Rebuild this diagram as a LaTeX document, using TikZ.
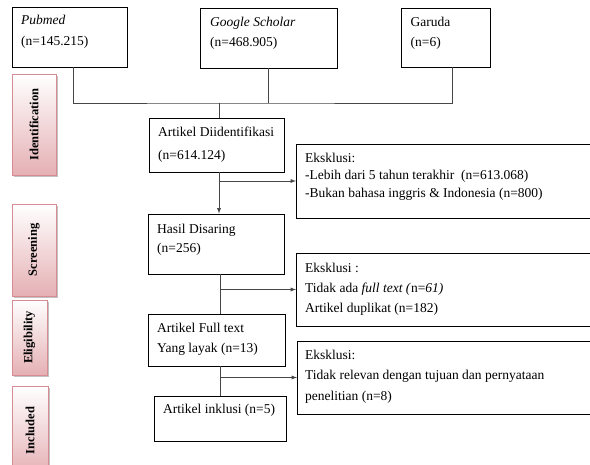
\documentclass[tikz,border=0pt]{standalone}
\usepackage{fontspec}
\setmainfont{Liberation Serif}
\usetikzlibrary{positioning,calc,arrows.meta,shadows}
\definecolor{stagefill}{RGB}{229,176,180}
\definecolor{stageline}{RGB}{214,140,146}
\definecolor{connline}{RGB}{70,70,70}
\newcommand{\boxlines}[2]{\parbox[t]{290pt}{\fontsize{13.5}{#1}\selectfont #2}}

\begin{document}
\begin{tikzpicture}[x=1pt,y=-1pt,
    box/.style={draw,line width=0.9pt,inner sep=0pt},
    conn/.style={draw=connline,line width=0.9pt},
    stage/.style={draw=stageline,line width=0.6pt,top color=white,bottom color=stagefill,inner sep=0pt,
      drop shadow={shadow xshift=2pt,shadow yshift=-2pt,fill=black!40,opacity=0.6},font=\fontsize{12.5}{14}\selectfont\bfseries},
    txt/.style={anchor=base west,inner sep=0pt}]
  \useasboundingbox (0,0) rectangle (590,465);
  \clip (0,0) rectangle (590,465);
  % stages on the left
  \node[stage,minimum width=44pt,minimum height=101pt] (st1) at (34,124.5) {\rotatebox{90}{Identification}};
  \node[stage,minimum width=44pt,minimum height=92pt] (st2) at (34,250) {\rotatebox{90}{Screening}};
  \node[stage,minimum width=35pt,minimum height=75pt] (st3) at (29.5,337.5) {\rotatebox{90}{Eligibility}};
  \node[stage,minimum width=36pt,minimum height=89pt] (st4) at (30,430.5) {\rotatebox{90}{Included}};
  % sources
  \node[box,minimum width=115pt,minimum height=60pt] (pub) at (69.5,37) {};
  \node[box,minimum width=137pt,minimum height=60pt] (gs) at (268.5,38) {};
  \node[box,minimum width=89pt,minimum height=59pt] (gar) at (445.5,37.5) {};
  \node[txt] (pub-t) at (21,25) {\boxlines{21}{\textit{Pubmed}\\(n=145.215)}};
  \node[txt] (gs-t) at (210,26.5) {\boxlines{20}{\textit{Google Scholar}\\(n=468.905)}};
  \node[txt] (gar-t) at (410.5,27) {\boxlines{20}{Garuda\\(n=6)}};
  % main column
  \node[box,minimum width=135pt,minimum height=54pt] (idf) at (216.5,145) {};
  \node[box,minimum width=136pt,minimum height=60pt] (hasil) at (216,244) {};
  \node[box,minimum width=137pt,minimum height=52pt] (full) at (216.5,340) {};
  \node[box,minimum width=132pt,minimum height=45pt] (inkl) at (220,418.5) {};
  \node[txt] (idf-t) at (158,136.5) {\boxlines{23}{Artikel Diidentifikasi\\(n=614.124)}};
  \node[txt] (hasil-t) at (157,233.5) {\boxlines{19.4}{Hasil Disaring\\(n=256)}};
  \node[txt] (full-t) at (157,332.5) {\boxlines{20}{Artikel Full text\\Yang layak (n=13)}};
  \node[txt] (inkl-t) at (163,414) {\boxlines{20}{Artikel inklusi (n=5)}};
  % exclusions
  \node[box,minimum width=310pt,minimum height=74pt,anchor=west] (exa) at (296,181) {};
  \node[box,minimum width=310pt,minimum height=73pt,anchor=west] (exb) at (296,289.5) {};
  \node[box,minimum width=310pt,minimum height=73pt,anchor=west] (exc) at (297,377.5) {};
  \node[txt] (exa-t) at (305,162.5) {\boxlines{17.3}{Eksklusi:\\-Lebih dari 5 tahun terakhir~~(n=613.068)\\-Bukan bahasa inggris \& Indonesia (n=800)}};
  \node[txt] (exb-t) at (305,272.5) {\boxlines{20}{Eksklusi :\\Tidak ada \textit{full text (}n=\textit{61)}\\Artikel duplikat (n=182)}};
  \node[txt] (exc-t) at (305,359.5) {\boxlines{20.3}{Eksklusi:\\Tidak relevan dengan tujuan dan pernyataan\\penelitian (n=8)}};
  % connectors
  \coordinate (hub) at (219,103);
  \draw[conn] ([xshift=3.5pt]pub.south) |- (hub) -| ([xshift=7pt]gar.south);
  \draw[conn] (gs.south) -- (gs.south |- hub);
  \draw[conn] (hub) -- (hub |- idf.north);
  \draw[conn,-latex] (idf.south -| hub) -- (hasil.north -| hub);
  \draw[conn,-latex] (exa.west -| hub) -- (exa.west);
  \draw[conn] (hasil.south -| inkl.north) -- (full.north -| inkl.north);
  \draw[conn,-latex] (exb.west -| inkl.north) -- (exb.west);
  \draw[conn] (full.south -| inkl.north) -- (inkl.north);
  \draw[conn,-latex] (exc.west -| inkl.north) -- (exc.west);
\end{tikzpicture}
\end{document}
